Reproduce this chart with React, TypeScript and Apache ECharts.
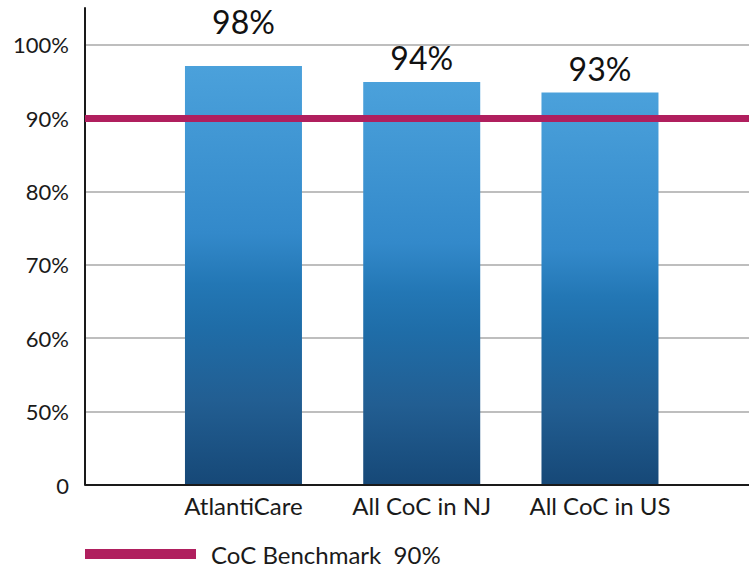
import React, { useEffect, useRef } from "react";
import * as echarts from "echarts";

const categories = ["AtlantiCare", "All CoC in NJ", "All CoC in US"];
const barValues = [97.1, 94.9, 93.5];
const barLabels = ["98%", "94%", "93%"];
const benchmarkName = "CoC Benchmark  90%";
const benchmarkValue = 90;
const yTickValues = [40, 50, 60, 70, 80, 90, 100];
const yTickLabels = ["0", "50%", "60%", "70%", "80%", "90%", "100%"];

const FONT = "Lato, 'Open Sans', sans-serif";
const TEXT = "#1a1a1a";
const MAGENTA = "#B01F5E";

export default function App() {
  const ref = useRef<HTMLDivElement>(null);
  useEffect(() => {
    if (!ref.current) return;
    const chart = echarts.init(ref.current, undefined, { renderer: "svg" });
    const labelLift = [-23, -4, -3];
    const barGradient = new echarts.graphic.LinearGradient(0, 0, 0, 1, [
      { offset: 0, color: "#4BA1DB" },
      { offset: 0.4, color: "#3389CA" },
      { offset: 0.52, color: "#2377B5" },
      { offset: 0.62, color: "#1F6DA8" },
      { offset: 0.8, color: "#225E92" },
      { offset: 1, color: "#164877" },
    ]);
    chart.setOption({
      animation: false,
      textStyle: { fontFamily: FONT },
      grid: { left: 85, right: 0, top: 8, bottom: 82, containLabel: false },
      legend: {
        left: 85,
        top: 542,
        padding: 0,
        icon: "rect",
        itemWidth: 111,
        itemHeight: 10,
        textStyle: {
          fontFamily: FONT,
          fontSize: 24,
          color: TEXT,
          padding: [0, 0, 0, 10],
        },
        data: [benchmarkName],
      },
      xAxis: {
        type: "value",
        min: -0.889,
        max: 2.836,
        splitLine: { show: false },
        axisTick: { show: false },
        axisLine: { show: false },
        axisLabel: {
          customValues: categories.map((_, i) => i),
          formatter: (v: number) => categories[Math.round(v)] ?? "",
          fontFamily: FONT,
          fontSize: 24,
          color: TEXT,
          margin: 8,
        },
      },
      yAxis: {
        type: "value",
        min: 40,
        max: 105,
        interval: 10,
        axisLine: { show: true, onZero: false, lineStyle: { color: TEXT, width: 2 } },
        axisTick: { show: false },
        splitLine: {
          show: true,
          showMinLine: true,
          showMaxLine: false,
          lineStyle: {
            color: ["#1a1a1a", "#a8a8a8", "#a8a8a8", "#a8a8a8", "#a8a8a8", "#a8a8a8", "#a8a8a8", "#ffffff"],
            width: 1.6,
          },
        },
        axisLabel: {
          customValues: yTickValues,
          formatter: (v: number) => {
            const i = yTickValues.indexOf(v);
            return i >= 0 ? yTickLabels[i] : "";
          },
          fontFamily: FONT,
          fontSize: 22,
          color: TEXT,
          margin: 16,
        },
      },
      series: [
        {
          type: "bar",
          barWidth: 117,
          z: 2,
          itemStyle: { color: barGradient },
          label: {
            show: true,
            position: "top",
            fontFamily: FONT,
            fontSize: 32,
            color: "#111",
            formatter: (p: any) => barLabels[p.dataIndex],
          },
          data: barValues.map((v, i) => ({
            value: [i, v],
            label: { offset: [0, labelLift[i]] },
          })),
        },
        {
          name: benchmarkName,
          type: "line",
          data: [],
          itemStyle: { color: MAGENTA },
          lineStyle: { color: MAGENTA, width: 7 },
          markLine: {
            silent: true,
            symbol: "none",
            z: 5,
            label: { show: false },
            lineStyle: { color: MAGENTA, width: 7, type: "solid" },
            data: [{ yAxis: benchmarkValue }],
          },
        },
        {
          type: "line",
          data: [],
          markLine: {
            silent: true,
            symbol: "none",
            z: 6,
            label: { show: false },
            lineStyle: { color: TEXT, width: 2, type: "solid" },
            data: [{ yAxis: yTickValues[0] }],
          },
        },
      ],
    });
    return () => chart.dispose();
  }, []);
  return (
    <div
      ref={ref}
      style={{ position: "absolute", left: 0, top: 0, width: 749, height: 567 }}
    />
  );
}
